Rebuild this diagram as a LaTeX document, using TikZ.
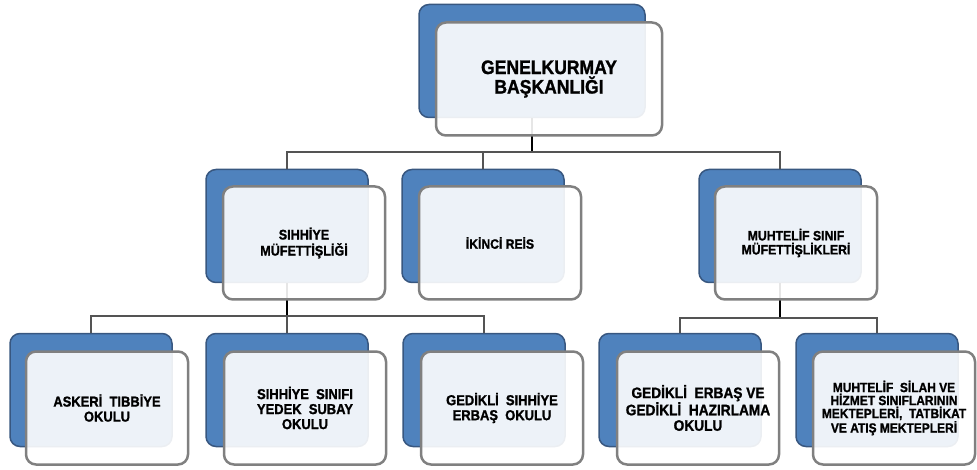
\documentclass[tikz,border=0pt]{standalone}
\usepackage{fontspec}
\setmainfont{Liberation Sans}[FakeStretch=0.9,BoldFeatures={FakeBold=1.2}]
\usepackage{tikz}
\usetikzlibrary{positioning}
\definecolor{boxblue}{rgb}{0.31,0.51,0.74}
\definecolor{boxedge}{rgb}{0.22,0.34,0.50}
\definecolor{frontedge}{rgb}{0.5,0.5,0.5}
\definecolor{busgray}{rgb}{0.33,0.33,0.33}

\begin{document}
\begin{tikzpicture}[x=1pt,y=-1pt,
    back/.style={draw=boxedge,line width=1.5pt,fill=boxblue,rounded corners=10pt,
        minimum width=162pt,minimum height=113pt,inner sep=0pt},
    front/.style={draw=frontedge,line width=2.5pt,fill=white,fill opacity=0.9,
        text opacity=1,rounded corners=10pt,minimum width=162pt,minimum height=113pt,
        inner sep=0pt,align=center},
    wide/.style={minimum width=226pt},
    stem/.style={draw=black,line width=2.5pt},
    bus/.style={draw=busgray,line width=2pt}]
\useasboundingbox (0,0) rectangle (977,470);

% blue boxes behind
\node[back,wide] (gkb-b) at (532,61) {};
\node[back] (sm-b) at (287,226) {};
\node[back] (ir-b) at (483,226) {};
\node[back] (msm-b) at (780,226) {};
\node[back] (atl-b) at (91,390) {};
\node[back] (sso-b) at (287,390) {};
\node[back] (gso-b) at (484,390) {};
\node[back] (geo-b) at (680,390) {};
\node[back] (mso-b) at (877,390) {};

% the connectors
\coordinate (bus1) at (0,152);
\coordinate (bus2) at (0,316);
\coordinate (bus3) at (0,318);
\draw[stem] (gkb-b.south) -- (gkb-b.south |- bus1);
\draw[bus] (sm-b.north) -- (sm-b.north |- bus1) -- (msm-b.north |- bus1) -- (msm-b.north);
\draw[bus] (ir-b.north) -- (ir-b.north |- bus1);
\draw[stem] (sm-b.south) -- (sm-b.south |- bus2);
\draw[bus] (atl-b.north) -- (atl-b.north |- bus2) -- (gso-b.north |- bus2) -- (gso-b.north);
\draw[bus] (sso-b.north) -- (sso-b.north |- bus2);
\draw[stem] (msm-b.south) -- (msm-b.south |- bus3);
\draw[bus] (geo-b.north) -- (geo-b.north |- bus3) -- (mso-b.north |- bus3) -- (mso-b.north);

% light boxes in front
\node[front,wide,font=\bfseries\fontsize{19.5}{19.5}\selectfont] (gkb) at ([shift={(17,18)}]gkb-b.center)
    {GENELKURMAY\\BAŞKANLIĞI};
\node[front,font=\bfseries\fontsize{14}{16}\selectfont] (sm) at ([shift={(17,17)}]sm-b.center)
    {SIHHİYE\\MÜFETTİŞLİĞİ};
\node[front,font=\bfseries\fontsize{13.5}{15}\selectfont] (ir) at ([shift={(17,17)}]ir-b.center)
    {İKİNCİ REİS};
\node[front,font=\bfseries\fontsize{13.6}{14}\selectfont] (msm) at ([shift={(16,17)}]msm-b.center)
    {MUHTELİF SINIF\\MÜFETTİŞLİKLERİ};
\node[front,font=\bfseries\fontsize{14.4}{15}\selectfont] (atl) at ([shift={(16,18)}]atl-b.center)
    {ASKERİ\ \ TIBBİYE\\OKULU};
\node[front,font=\bfseries\fontsize{14.4}{15}\selectfont] (sso) at ([shift={(18,18)}]sso-b.center)
    {SIHHİYE\ \ SINIFI\\YEDEK\ \ SUBAY\\OKULU};
\node[front,font=\bfseries\fontsize{14.4}{15}\selectfont] (gso) at ([shift={(18,18)}]gso-b.center)
    {GEDİKLİ\ \ SIHHİYE\\ERBAŞ\ \ OKULU};
\node[front,font=\bfseries\fontsize{15.2}{15.5}\selectfont] (geo) at ([shift={(18,18)}]geo-b.center)
    {GEDİKLİ\ \ ERBAŞ\ VE\\GEDİKLİ\ \ HAZIRLAMA\\OKULU};
\node[front,font=\bfseries\fontsize{13.3}{13}\selectfont] (mso) at ([shift={(17,18)}]mso-b.center)
    {MUHTELİF\ \ SİLAH VE\\HİZMET SINIFLARININ\\MEKTEPLERİ,\ \ TATBİKAT\\VE ATIŞ MEKTEPLERİ};

\end{tikzpicture}
\end{document}
